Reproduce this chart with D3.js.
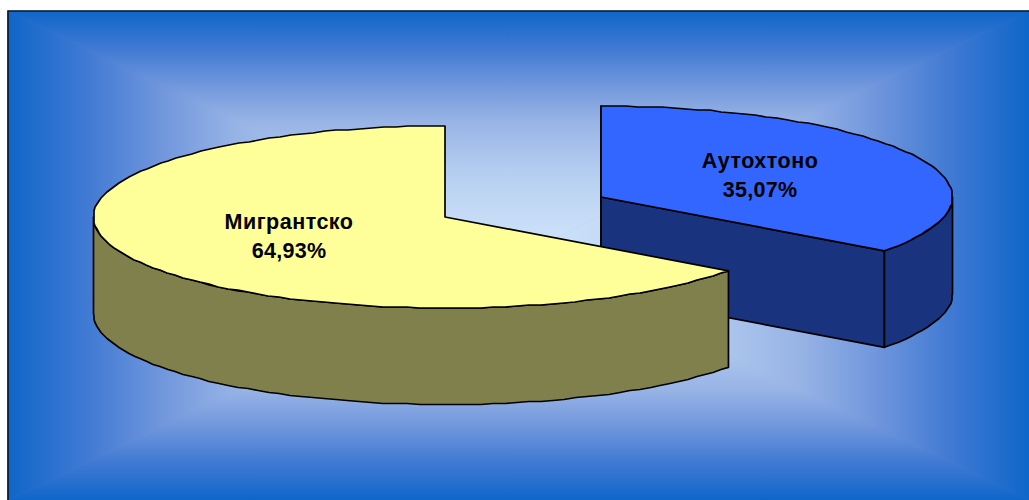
<!DOCTYPE html>
<html><head><meta charset="utf-8">
<script src="https://cdn.jsdelivr.net/npm/d3@7/dist/d3.min.js"></script>
<style>html,body{margin:0;padding:0;background:#fff;overflow:hidden}svg{display:block}</style>
</head><body><svg id="c" width="1029" height="500"></svg>
<script>
const categories = ["Аутохтоно", "Мигрантско"];
const values = [35.07, 64.93];
const valueLabels = ["35,07%", "64,93%"];

const topColors = ["#3366FF", "#FFFF99"];
const sideColors = ["#19337F", "#80804D"];
const centers = [[601, 197], [445, 217]];
const labelPos = [[760, 168], [289, 228.5]];
const rx = 351.5, ry = 91, depth = 96.5, grid = 1;

const svg = d3.select("#c");
const F = {x0: 8, y0: 11, x1: 1029, y1: 500};
const cx = (F.x0 + F.x1) / 2, cy = (F.y0 + F.y1) / 2;
const stops = [[0,"#0F66C9"],[.15,"#3F79D3"],[.3,"#7096DC"],[.45,"#98B4E6"],[.7,"#BAD2F2"],[1,"#D2E5FA"]];
const defs = svg.append("defs");
const panes = [
  {id: "gt", g: [cx, F.y0, cx, cy], p: [[F.x0,F.y0],[F.x1,F.y0],[cx,cy]]},
  {id: "gb", g: [cx, F.y1, cx, cy], p: [[F.x0,F.y1],[F.x1,F.y1],[cx,cy]]},
  {id: "gl", g: [F.x0, cy, cx, cy], p: [[F.x0,F.y0],[F.x0,F.y1],[cx,cy]]},
  {id: "gr", g: [F.x1, cy, cx, cy], p: [[F.x1,F.y0],[F.x1,F.y1],[cx,cy]]}
];
svg.append("rect").attr("x",F.x0).attr("y",F.y0).attr("width",F.x1-F.x0).attr("height",F.y1-F.y0).attr("fill","#5c8fd8");
panes.forEach(d => {
  const lg = defs.append("linearGradient").attr("id", d.id).attr("gradientUnits","userSpaceOnUse")
    .attr("x1",d.g[0]).attr("y1",d.g[1]).attr("x2",d.g[2]).attr("y2",d.g[3]);
  stops.forEach(s => lg.append("stop").attr("offset",s[0]).attr("stop-color",s[1]));
  svg.append("polygon").attr("points",d.p.map(q=>q.join(",")).join(" "))
    .attr("fill",`url(#${d.id})`).attr("stroke",`url(#${d.id})`).attr("stroke-width",0.6);
});
svg.append("path").attr("d",`M${F.x0},${F.y1}V${F.y0}H${F.x1}`).attr("fill","none").attr("stroke","#0e1a2a").attr("stroke-width",1.7);

const pie = d3.pie().sort(null).startAngle(0).endAngle(2*Math.PI);
const arcs = pie(values);
const line = d3.line();
const snap = v => Math.round(v/grid)*grid;
const pt = (c, a, dy=0) => [snap(c[0] + rx*Math.sin(a)), snap(c[1] - ry*Math.cos(a)) + dy];
const exact = (c, a, dy=0) => [c[0] + rx*Math.sin(a), c[1] - ry*Math.cos(a) + dy];
const samples = (a0, a1) => { const n = Math.max(2, Math.round((a1-a0)/0.035)); return d3.range(0, n+1).map(i => a0 + (a1-a0)*i/n); };
const ends = (c, list, dy=0) => list.map((t,i)=> (i===0||i===list.length-1) ? exact(c,t,dy) : pt(c,t,dy));

function wedge(i){
  const a = arcs[i], c = centers[i];
  const g = svg.append("g").attr("stroke","#000").attr("stroke-width",1.7).attr("stroke-linejoin","round");
  const side = (pts, col) => g.append("path").attr("d", line(pts)+"Z").attr("fill", col);
  if (i === 0) {
    side([c, exact(c,a.startAngle), exact(c,a.startAngle,depth), [c[0],c[1]+depth]], sideColors[i]);
    side([c, exact(c,a.endAngle), exact(c,a.endAngle,depth), [c[0],c[1]+depth]], sideColors[i]);
  }
  const r0 = Math.max(a.startAngle, Math.PI/2), r1 = Math.min(a.endAngle, 3*Math.PI/2);
  if (r1 > r0) {
    const f = samples(r0, r1);
    side(ends(c,f).concat(ends(c,f,depth).reverse()), sideColors[i]);
  }
  g.append("path").attr("d", line([c].concat(ends(c, samples(a.startAngle, a.endAngle))))+"Z").attr("fill", topColors[i]);
}
wedge(0);
wedge(1);

const txt = svg.append("g").attr("font-family","'Liberation Sans',Arial,sans-serif").attr("font-weight","bold")
  .attr("font-size",21.5).attr("text-anchor","middle").attr("fill","#000");
categories.forEach((n,i)=>{
  txt.append("text").attr("x",labelPos[i][0]).attr("y",labelPos[i][1]).attr("letter-spacing",0.5).text(n);
  txt.append("text").attr("x",labelPos[i][0]).attr("y",labelPos[i][1]+29).attr("letter-spacing",0.3).text(valueLabels[i]);
});
</script></body></html>
